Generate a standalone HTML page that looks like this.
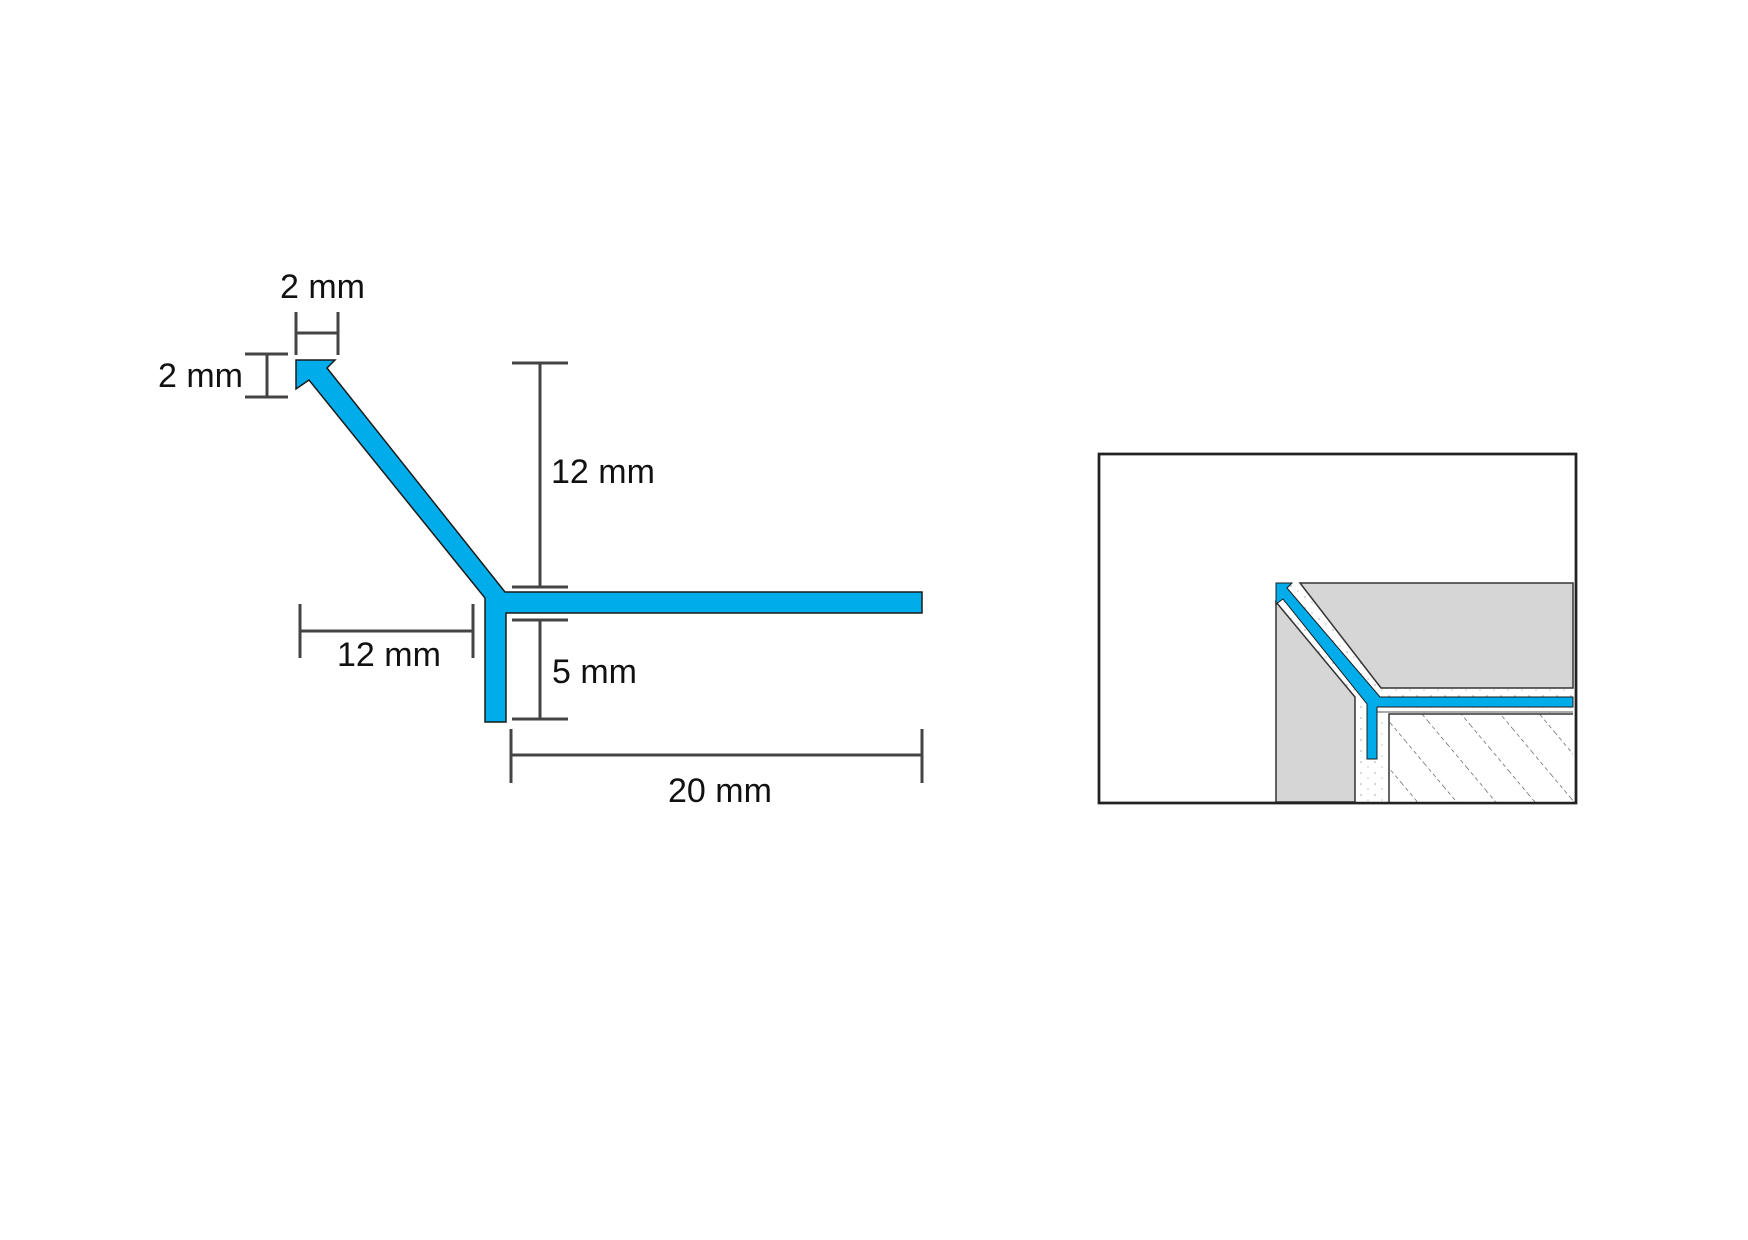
<!DOCTYPE html>
<html><head><meta charset="utf-8"><style>
html,body{margin:0;padding:0;background:#fff;}
svg{display:block;}
text{font-family:"Liberation Sans",sans-serif;font-size:34px;fill:#111;}
</style></head><body>
<svg width="1748" height="1240" viewBox="0 0 1748 1240" xmlns="http://www.w3.org/2000/svg">
<defs>
<pattern id="dots" width="14" height="11" patternUnits="userSpaceOnUse">
<rect width="14" height="11" fill="#fff"/>
<circle cx="3" cy="3" r="0.9" fill="#bbb"/><circle cx="10" cy="8" r="0.8" fill="#c4c4c4"/>
</pattern>
<pattern id="hatch" width="30" height="30" patternUnits="userSpaceOnUse" patternTransform="rotate(-40)">
<rect width="30" height="30" fill="#fff"/>
<line x1="0" y1="0" x2="0" y2="30" stroke="#444" stroke-width="1.2" stroke-dasharray="4 3"/>
</pattern>
</defs>
<path d="M296,360 L335,360 L327,368 L505,592 L922,592 L922,613 L506,613 L506,722 L485,722 L485,598 L309,380 L296,389 Z" fill="#00adea" stroke="#1a1a1a" stroke-width="1.5"/>
<g stroke="#444" stroke-width="3" fill="none">
<line x1="296" y1="312" x2="296" y2="355"/><line x1="338" y1="312" x2="338" y2="355"/><line x1="296" y1="333" x2="338" y2="333"/>
<line x1="245" y1="354" x2="288" y2="354"/><line x1="245" y1="397" x2="288" y2="397"/><line x1="267" y1="354" x2="267" y2="397"/>
<line x1="512" y1="363" x2="568" y2="363"/><line x1="512" y1="587" x2="568" y2="587"/><line x1="540" y1="363" x2="540" y2="587"/>
<line x1="512" y1="620" x2="568" y2="620"/><line x1="512" y1="719" x2="568" y2="719"/><line x1="540" y1="620" x2="540" y2="719"/>
<line x1="300" y1="604" x2="300" y2="658"/><line x1="473" y1="604" x2="473" y2="658"/><line x1="300" y1="631" x2="473" y2="631"/>
<line x1="511" y1="729" x2="511" y2="783"/><line x1="922" y1="729" x2="922" y2="783"/><line x1="511" y1="755" x2="922" y2="755"/>
</g>
<text x="280" y="298">2 mm</text>
<text x="158" y="387">2 mm</text>
<text x="551" y="483">12 mm</text>
<text x="552" y="683">5 mm</text>
<text x="337" y="666">12 mm</text>
<text x="668" y="802">20 mm</text>
<rect x="1099" y="454" width="477" height="349" fill="#fff" stroke="#222" stroke-width="2.5"/>
<path d="M1276,583 L1300,583 L1381,688 L1573,688 L1573,714 L1389,714 L1389,802 L1355,802 L1355,697 L1276,602 Z" fill="url(#dots)"/>
<path d="M1300,583 L1573,583 L1573,688 L1381,688 Z" fill="#d6d6d6" stroke="#333" stroke-width="1.5"/>
<path d="M1276,602 L1355,697 L1355,802 L1276,802 Z" fill="#d6d6d6" stroke="#333" stroke-width="1.5"/>
<rect x="1389" y="714" width="184" height="88" fill="url(#hatch)"/>
<path d="M1389,802 L1389,714 L1573,714" fill="none" stroke="#333" stroke-width="1.5"/>
<line x1="1377" y1="712" x2="1573" y2="712" stroke="#555" stroke-width="1"/>
<path d="M1276,583 L1292,583 L1287,588 L1380,697 L1573,697 L1573,707 L1377,707 L1377,759 L1367,759 L1367,704 L1283,599 L1276,604 Z" fill="#00adea" stroke="#1a1a1a" stroke-width="1"/>
<rect x="1099" y="454" width="477" height="349" fill="none" stroke="#222" stroke-width="2.5"/>
</svg>
</body></html>
